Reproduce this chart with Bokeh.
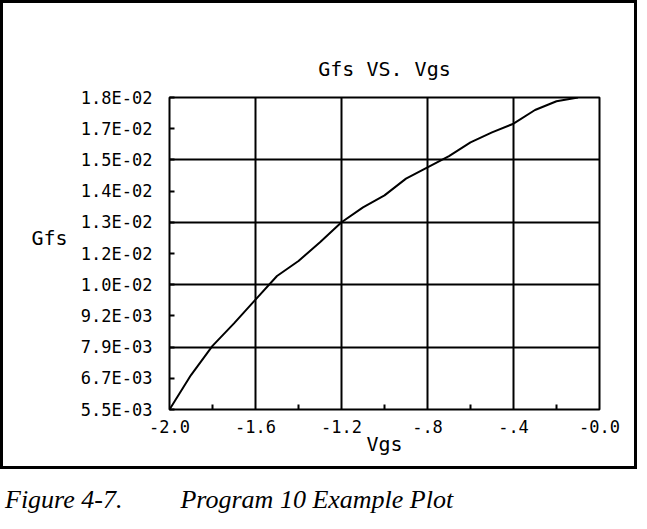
from bokeh.plotting import figure
from bokeh.models import FixedTicker, Range1d, Div, LinearAxis
from bokeh.layouts import column
from bokeh.embed import file_html
from bokeh.resources import INLINE

# ---- data ----
vgs = [-2.0, -1.9, -1.8, -1.7, -1.6, -1.5, -1.4, -1.3, -1.2, -1.1,
       -1.0, -0.9, -0.8, -0.7, -0.6, -0.5, -0.4, -0.3, -0.2, -0.1]
gfs = [0.00550, 0.00688, 0.00805, 0.00895, 0.00990, 0.01085, 0.01145, 0.01220,
       0.01300, 0.01360, 0.01408, 0.01475, 0.01520, 0.01565, 0.01620, 0.01660,
       0.01695, 0.01750, 0.01785, 0.01800]

x_ticks = [-2.0, -1.6, -1.2, -0.8, -0.4, 0.0]
x_tick_labels = ["-2.0", "-1.6", "-1.2", "-.8", "-.4", "-0.0"]
x_minor = [-1.8, -1.4, -1.0, -0.6, -0.2]
x_grid = [-1.6, -1.2, -0.8, -0.4]

y_ticks = [0.0055, 0.00675, 0.008, 0.00925, 0.0105, 0.01175,
           0.013, 0.01425, 0.0155, 0.01675, 0.018]
y_tick_labels = ["5.5E-03", "6.7E-03", "7.9E-03", "9.2E-03", "1.0E-02", "1.2E-02",
                 "1.3E-02", "1.4E-02", "1.5E-02", "1.7E-02", "1.8E-02"]
y_grid = [0.008, 0.0105, 0.013, 0.0155]

title_text = "Gfs VS. Vgs"
x_label = "Vgs"
y_label = "Gfs"
# the y label sits between the 1.2E-02 and 1.3E-02 ticks
y_label_pos = (y_ticks[5] + y_ticks[6]) / 2

MONO = "DejaVu Sans Mono"

p = figure(width=631, height=463, output_backend="svg", toolbar_location=None,
           x_range=Range1d(x_ticks[0], x_ticks[-1]),
           y_range=Range1d(y_ticks[0], y_ticks[-1]),
           min_border_left=166, min_border_right=35,
           min_border_top=94, min_border_bottom=57)

p.title.text = title_text
p.title.align = "center"
p.title.text_font = MONO
p.title.text_font_size = "20px"
p.title.text_font_style = "normal"
p.title.text_color = "black"
p.title.standoff = 33

p.outline_line_color = "black"
p.outline_line_width = 2
p.outline_line_alpha = 1.0

# x axis
xa = p.xaxis[0]
xa.ticker = FixedTicker(ticks=x_ticks, minor_ticks=x_minor)
xa.major_label_overrides = {t: l for t, l in zip(x_ticks, x_tick_labels)}
xa.axis_line_color = None
xa.major_tick_in = 0
xa.major_tick_out = 0
xa.minor_tick_in = 5
xa.minor_tick_out = 0
xa.minor_tick_line_color = "black"
xa.minor_tick_line_width = 2
xa.major_label_text_font = MONO
xa.major_label_text_font_size = "17px"
xa.major_label_text_color = "black"
xa.major_label_standoff = 10
xa.axis_label = x_label
xa.axis_label_text_font = MONO
xa.axis_label_text_font_size = "20px"
xa.axis_label_text_font_style = "normal"
xa.axis_label_text_color = "black"
xa.axis_label_standoff = -4

# y axis
ya = p.yaxis[0]
ya.ticker = FixedTicker(ticks=y_ticks, minor_ticks=[])
ya.major_label_overrides = {t: l for t, l in zip(y_ticks, y_tick_labels)}
ya.axis_line_color = None
ya.major_tick_in = 5
ya.major_tick_out = 0
ya.major_tick_line_color = "black"
ya.major_tick_line_width = 2
ya.minor_tick_in = 0
ya.minor_tick_out = 0
ya.major_label_text_font = MONO
ya.major_label_text_font_size = "17px"
ya.major_label_text_color = "black"
ya.major_label_standoff = 17

# y label "Gfs" drawn horizontally beside the tick labels, between 1.2E-02 and 1.3E-02
ylab_axis = LinearAxis(ticker=FixedTicker(ticks=[y_label_pos], minor_ticks=[]),
                       major_label_overrides={y_label_pos: y_label},
                       axis_line_color=None, major_tick_in=0, major_tick_out=0,
                       minor_tick_in=0, minor_tick_out=0,
                       major_label_text_font=MONO, major_label_text_font_size="20px",
                       major_label_text_color="black", major_label_standoff=10)
p.add_layout(ylab_axis, "left")

# grids
p.xgrid.ticker = FixedTicker(ticks=x_grid)
p.ygrid.ticker = FixedTicker(ticks=y_grid)
for g in (p.xgrid, p.ygrid):
    g.grid_line_color = "black"
    g.grid_line_width = 2
    g.grid_line_alpha = 1.0

# curve
p.line(vgs, gfs, line_color="black", line_width=2)

boxed = column(p, styles={"border": "3px solid black"})

caption = Div(text='<span style="font-style:italic">Figure 4-7.</span>'
                   '<span style="font-style:italic; margin-left:58px">Program 10 Example Plot</span>',
              width=631, height=44,
              styles={"font-family": "'Liberation Serif', serif", "font-size": "26px",
                      "color": "black", "margin-top": "12px"})

layout = column(boxed, caption, spacing=0)

open("out.html", "w").write(file_html(layout, INLINE))
